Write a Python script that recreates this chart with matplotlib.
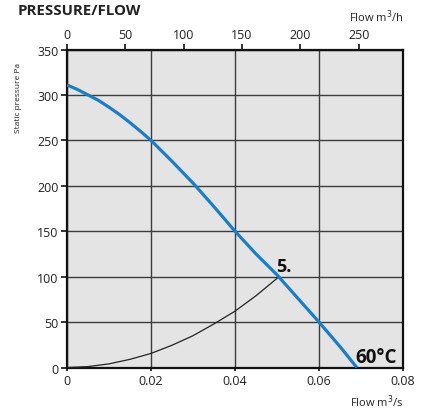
import matplotlib
matplotlib.use("Agg")
import matplotlib.pyplot as plt

plt.rcParams["font.family"] = ["Open Sans", "DejaVu Sans"]

# fan curve at 60°C (flow m³/s, static pressure Pa)
fan_flow = [0.0, 0.0025, 0.005, 0.0075, 0.010, 0.0125, 0.015, 0.0175,
            0.020, 0.025, 0.030, 0.035, 0.040, 0.045, 0.050, 0.055,
            0.060, 0.065, 0.069]
fan_pressure = [311, 306, 300, 294, 286.5, 278.5, 269.5, 260,
                250, 227, 203, 177, 150, 125, 102, 76,
                50, 23, 0]

# system curve 5.
sys_flow = [0.0, 0.005, 0.010, 0.015, 0.020, 0.025, 0.030, 0.035,
            0.040, 0.045, 0.0505]
sys_pressure = [0, 1, 4, 9, 15.5, 24.5, 35, 48, 62, 79, 100]

x_ticks = [0, 0.02, 0.04, 0.06, 0.08]
x_labels = ["0", "0.02", "0.04", "0.06", "0.08"]
y_ticks = [0, 50, 100, 150, 200, 250, 300, 350]
top_ticks = [0, 50, 100, 150, 200, 250]

fig = plt.figure(figsize=(4.33, 4.10), dpi=100)
ax = fig.add_axes([0.1547, 0.1012, 0.776, 0.7756])
ax.set_facecolor("#e4e4e4")

ax.set_xlim(0, 0.08)
ax.set_ylim(0, 350)
ax.set_xticks(x_ticks)
ax.set_xticklabels(x_labels)
ax.set_yticks(y_ticks)
ax.grid(True, color="#3c3c3c", lw=1.0)
ax.set_axisbelow(True)

for s in ax.spines.values():
    s.set_color("#111111")
    s.set_linewidth(1.6)

ax.tick_params(axis="y", direction="out", length=4, width=1.2,
               colors="#111111", labelsize=9, labelcolor="#222222", pad=2)
ax.tick_params(axis="x", direction="out", length=2, width=1.2,
               colors="#111111", labelsize=9, labelcolor="#222222", pad=3)

ax.plot(sys_flow, sys_pressure, color="#222222", lw=0.9, zorder=3)
ax.plot(fan_flow, fan_pressure, color="#1a7ec4", lw=2.3, zorder=4,
        solid_capstyle="butt")

ax.text(0.0497, 102, "5.", fontsize=13, fontweight="bold",
        color="#111111", ha="left", va="bottom", zorder=5)
ax.text(0.0686, 1, "60°C", fontsize=13.5, fontweight="bold",
        color="#111111", ha="left", va="bottom", zorder=5)

# top axis in m³/h
top = ax.twiny()
top.set_xlim(0, 0.08 * 3600)
top.set_xticks(top_ticks)
top.tick_params(axis="x", direction="out", length=4, width=1.2,
                colors="#111111", labelsize=9, labelcolor="#222222", pad=2)
for s in top.spines.values():
    s.set_visible(False)

fig.text(18 / 433, 1 - 4 / 410, "PRESSURE/FLOW", fontsize=10.8,
         fontweight="bold", color="#222222", ha="left", va="top")
fig.text(0.9307, 1 - 17 / 410, "Flow m$^3$/h", fontsize=8,
         color="#222222", ha="right", va="center")
fig.text(0.9307, 1 - 402 / 410, "Flow m$^3$/s", fontsize=8,
         color="#222222", ha="right", va="center")
fig.text(19 / 433, 1 - 98 / 410, "Static pressure Pa", fontsize=6,
         color="#222222", ha="center", va="center", rotation=90)

fig.savefig("out.png", dpi=100)
